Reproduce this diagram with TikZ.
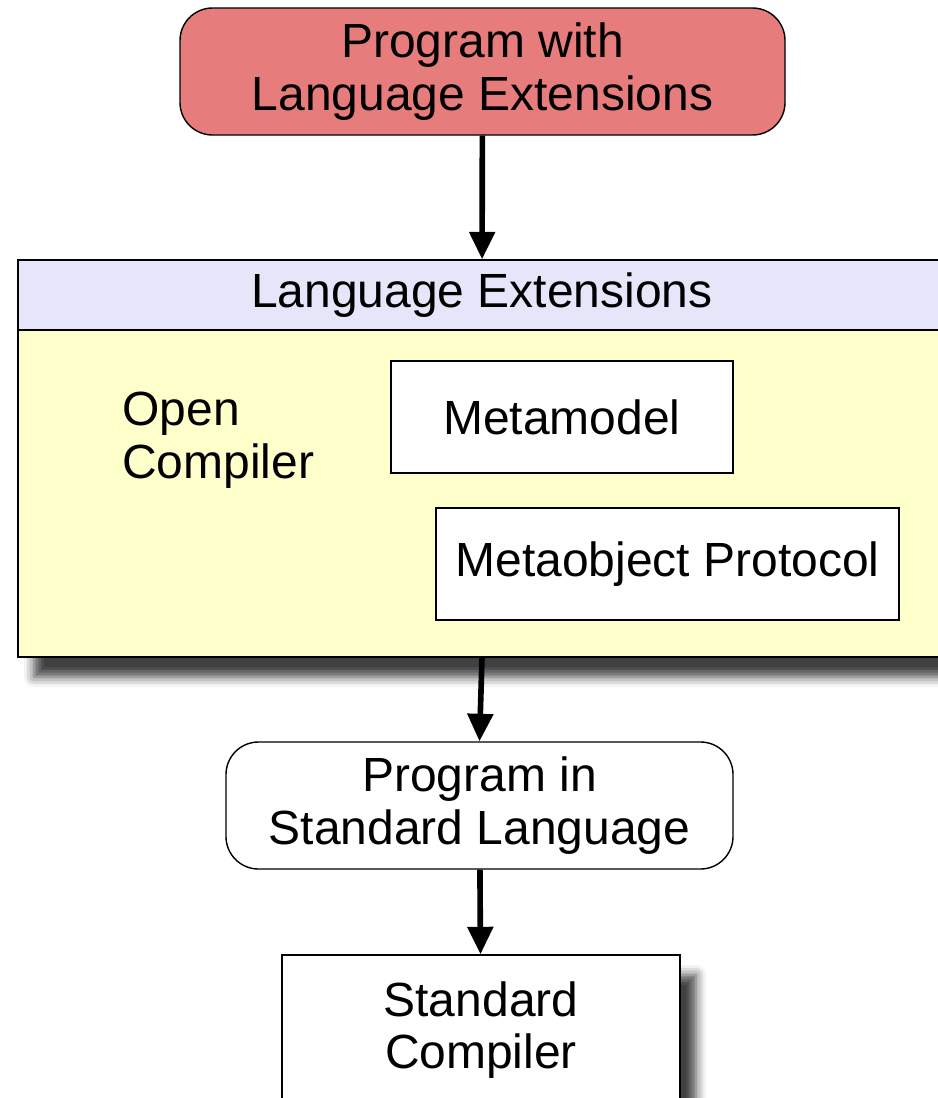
\documentclass[tikz,border=0pt]{standalone}
\usepackage{fontspec}
\setmainfont{Liberation Sans}
\usetikzlibrary{arrows.meta,shadows.blur}
\definecolor{progred}{RGB}{230,124,124}
\definecolor{headblue}{RGB}{230,230,250}
\definecolor{bodyyellow}{RGB}{255,255,204}

\begin{document}
\begin{tikzpicture}[
   every node/.style={font=\fontsize{27.3}{30}\selectfont, align=center, inner sep=0pt},
   box/.style={draw=black, line width=0.8pt, fill=white},
   roundbox/.style={box, rounded corners=0.65cm},
   shade/.style={blur shadow={shadow xshift=0.32cm, shadow yshift=-0.4cm, shadow blur radius=0.2cm, shadow opacity=75}},
   flow/.style={-{Triangle[width=0.5cm,length=0.55cm]}, line width=3.2pt}]
   \clip (0,0) rectangle (18.76,-21.96);

   \node[roundbox, fill=progred, minimum width=12.1cm, minimum height=2.54cm] (prog) at (9.65,-1.43) {Program with\\Language Extensions};

   \node[box, fill=bodyyellow, shade, minimum width=18.56cm, minimum height=7.94cm] (open) at (9.64,-9.17) {};
   \node[box, fill=headblue, minimum width=18.56cm, minimum height=1.4cm] (ext) at (9.64,-5.9) {Language Extensions};
   \node[anchor=west, align=left] (oc) at (2.44,-8.8) {Open\\Compiler};
   \node[box, minimum width=6.84cm, minimum height=2.24cm] (meta) at (11.24,-8.34) {Metamodel};
   \node[box, minimum width=9.26cm, minimum height=2.24cm] (mop) at (13.35,-11.28) {Metaobject Protocol};

   \node[roundbox, minimum width=10.14cm, minimum height=2.54cm] (std) at (9.59,-16.11) {Program in\\Standard Language};

   \node[box, shade, minimum width=7.96cm, minimum height=3.0cm] (comp) at (9.62,-20.6) {Standard\\Compiler};

   \draw[flow] (prog) -- (ext);
   \draw[flow] (open.south) -- (std.north);
   \draw[flow] (std) -- (comp);
\end{tikzpicture}
\end{document}
